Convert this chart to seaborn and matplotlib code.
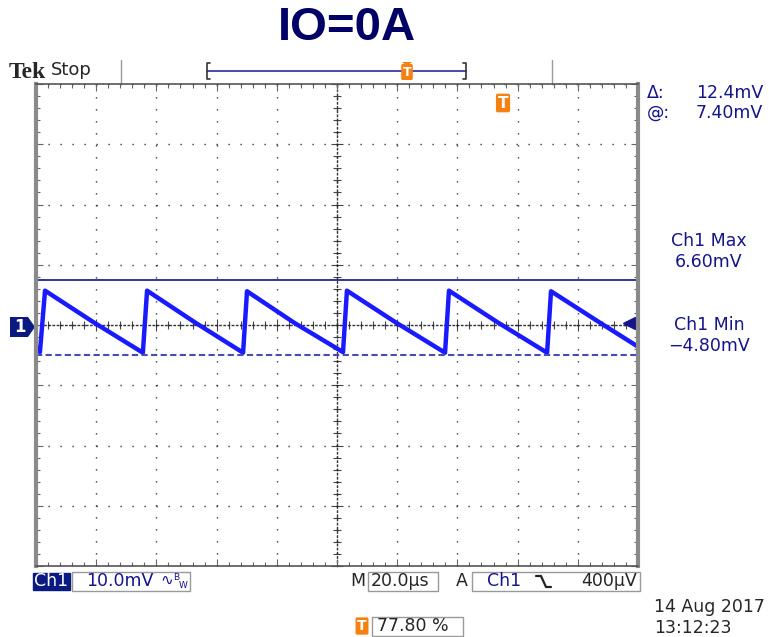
import matplotlib.pyplot as plt
import seaborn as sns
from matplotlib.patches import Rectangle, Polygon
from matplotlib.lines import Line2D
from matplotlib.ticker import MultipleLocator

# Ch1 trace (20 us/div, 10 mV/div)
t_us = [-100.0, -98.7, -97.0, -80.7, -64.5, -63.1, -47.1, -31.2, -29.9, -14.0,
        2.0, 3.3, 19.6, 35.9, 37.2, 53.5, 69.8, 71.1, 87.0, 100.0]
ch1_mV = [-3.6, -4.5, 5.7, 0.4, -4.6, 5.7, 0.4, -4.6, 5.6, 0.3,
          -4.5, 5.7, 0.4, -4.6, 5.7, 0.4, -4.6, 5.6, 0.5, -3.6]

cursor_mV = [7.4, -5.0]          # cursor @ and @ - delta
trig_level_mV = 0.4
readout_labels = ["Δ:", "@:"]
readout_values = ["12.4mV", "7.40mV"]
meas_labels = ["Ch1 Max", "Ch1 Min"]
meas_values = ["6.60mV", "−4.80mV"]

W, H = 769, 637
NAVY = "#14148c"
ORANGE = "#f58210"

sns.set_style("white")
plt.rcParams["font.family"] = ["DejaVu Sans"]

fig = plt.figure(figsize=(W / 100, H / 100), dpi=100)


def fx(px):
    return px / W


def fy(py):
    return 1 - py / H


def ftext(x, y, s, **kw):
    kw.setdefault("va", "center")
    return fig.text(fx(x), fy(y), s, **kw)


def fline(xs, ys, **kw):
    fig.add_artist(Line2D([fx(x) for x in xs], [fy(y) for y in ys],
                          transform=fig.transFigure, **kw))


def fbox(x0, y0, x1, y1, fc="white", ec="#999999"):
    fig.add_artist(Rectangle((fx(x0), fy(y1)), (x1 - x0) / W, (y1 - y0) / H,
                             transform=fig.transFigure, fc=fc, ec=ec, lw=1))


def fpoly(pts, fc):
    fig.add_artist(Polygon([(fx(x), fy(y)) for x, y in pts],
                           transform=fig.transFigure, fc=fc, ec="none"))


def tmarker(x, y, size=10):
    ftext(x, y, "T", color="white", weight="bold", size=size, ha="center",
          bbox=dict(boxstyle="round,pad=0.12", fc=ORANGE, ec="none"))


# graticule
rect = [fx(36), fy(566), 602 / W, 482 / H]
ax2 = fig.add_axes(rect, zorder=1)
ax = fig.add_axes(rect, zorder=2)
for a in (ax, ax2):
    a.set_xlim(-100, 100)
    a.set_ylim(-40, 40)
    a.xaxis.set_major_locator(MultipleLocator(20))
    a.yaxis.set_major_locator(MultipleLocator(10))
    a.xaxis.set_minor_locator(MultipleLocator(4))
    a.yaxis.set_minor_locator(MultipleLocator(2))
    a.tick_params(labelbottom=False, labelleft=False)
ax.patch.set_alpha(0)

# center cross with minor ticks
for side in ("top", "right"):
    ax2.spines[side].set_visible(False)
for side in ("left", "bottom"):
    ax2.spines[side].set_position(("data", 0))
    ax2.spines[side].set_linestyle((0, (1, 2)))
    ax2.spines[side].set_color("#333333")
    ax2.spines[side].set_linewidth(1)
ax2.tick_params(which="both", direction="inout", bottom=True, left=True,
                top=False, right=False, color="#444444", width=0.8)
ax2.tick_params(which="minor", length=6)
ax2.tick_params(which="major", length=8)

# outer frame
ax.grid(True, which="major", color="#222222", lw=1, linestyle=(0, (0.9, 7.74)))
for side in ("left", "right"):
    ax.spines[side].set_color("#8a8a8a")
    ax.spines[side].set_linewidth(3)
for side in ("top", "bottom"):
    ax.spines[side].set_color("#555555")
    ax.spines[side].set_linewidth(1.2)
ax.tick_params(which="both", direction="in", top=True, right=True,
               bottom=True, left=True, color="#666666", width=0.8)
ax.tick_params(which="minor", length=3)
ax.tick_params(which="major", length=5)

# trace and cursors
sns.lineplot(x=t_us, y=ch1_mV, ax=ax, color="#1a1aff", lw=3.2,
             sort=False, estimator=None)
ax.axhline(cursor_mV[0], color="#23238f", lw=1.3)
ax.axhline(cursor_mV[1], color="#4b4bb4", lw=1.5, linestyle=(0, (3, 1.6)))
ax.plot([97], [trig_level_mV], marker="<", ms=8, color=NAVY, clip_on=False)

# title
ftext(347, 28, "IO=0A", family="Liberation Sans", weight="bold", size=34,
      color="#000066", ha="center")

# header
ftext(9, 72, "Tek", family="Liberation Serif", weight="bold", size=17)
ftext(51, 70, "Stop", size=13)
fline([121, 121], [60, 83], color="#999999", lw=1)
fline([552, 552], [60, 83], color="#999999", lw=1)
fline([207, 466], [71, 71], color="#2a2aa0", lw=1.2)
fline([210, 207, 207, 210], [63, 63, 79, 79], color="#333333", lw=1.2)
fline([463, 466, 466, 463], [63, 63, 79, 79], color="#333333", lw=1.2)
fpoly([(402, 62), (412, 62), (407, 66)], ORANGE)
tmarker(407, 72, size=9)
fpoly([(495, 88), (511, 88), (503, 96)], ORANGE)
tmarker(503, 103, size=11)

# right readouts
for i, (lab, val) in enumerate(zip(readout_labels, readout_values)):
    ftext(647, 93 + 20 * i, lab, size=12.5, color=NAVY)
    ftext(763, 93 + 20 * i, val, size=12.5, color=NAVY, ha="right")
for i, (lab, val) in enumerate(zip(meas_labels, meas_values)):
    ftext(709, 241 + 84 * i, lab, size=12.5, color=NAVY, ha="center")
    ftext(709, 262 + 84 * i, val, size=12.5, color=NAVY, ha="center")

# channel 1 ground marker
fpoly([(10, 317), (28, 317), (35, 327), (28, 337), (10, 337)], "#0b1a80")
ftext(20, 327, "1", color="white", weight="bold", size=12, ha="center")

# bottom status line
fbox(33, 573, 70, 590, fc="#0b1a80", ec="#0b1a80")
ftext(51, 581, "Ch1", color="white", size=12.5, ha="center")
fbox(72, 572, 190, 591)
ftext(86, 581, "10.0mV", color=NAVY, size=12.5)
ftext(160, 580, "∿", color=NAVY, size=11)
ftext(173, 577, "B", color=NAVY, size=6.5)
ftext(179, 585, "W", color=NAVY, size=6.5)
ftext(350, 581, "M", size=12.5)
fbox(368, 572, 438, 591)
ftext(371, 581, "20.0µs", size=12.5)
ftext(456, 581, "A", size=12.5)
fbox(472, 572, 640, 591)
ftext(487, 581, "Ch1", color=NAVY, size=12.5)
fline([536, 541, 546, 551], [576, 576, 587, 587], color="#222222", lw=1.6)
ftext(637, 581, "400µV", size=12.5, ha="right")

tmarker(362, 626, size=10)
fbox(372, 617, 463, 636)
ftext(377, 626, "77.80 %", size=12.5)
ftext(654, 607, "14 Aug 2017", size=12.5)
ftext(654, 628, "13:12:23", size=12.5)

fig.savefig("out.png", dpi=100)
